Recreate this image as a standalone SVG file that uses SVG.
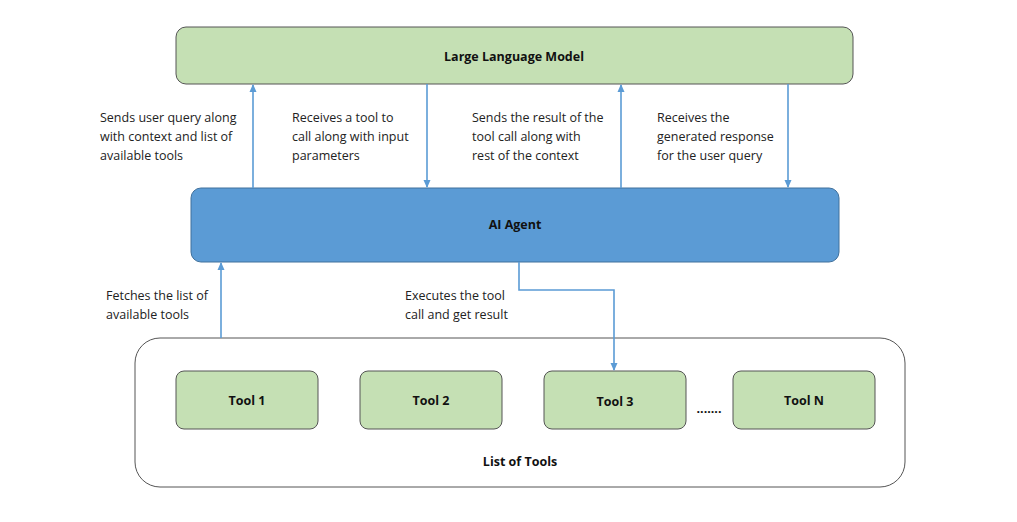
<svg xmlns="http://www.w3.org/2000/svg" width="1017" height="522" viewBox="0 0 1017 522">
<style>
.t{font-family:"Open Sans","Liberation Sans",sans-serif;font-size:12.5px;fill:#222}
.b{font-family:"Open Sans","Liberation Sans",sans-serif;font-size:12.5px;font-weight:bold;fill:#111;text-anchor:middle}
.g{fill:#c5e0b4;stroke:#555;stroke-width:1}
.c{fill:none;stroke:#5b9bd5;stroke-width:1.6}
</style>
<defs><marker id="a" markerWidth="8" markerHeight="8" refX="7" refY="4" orient="auto" markerUnits="userSpaceOnUse"><path d="M0,0.5 L8,4 L0,7.5z" fill="#5b9bd5"/></marker></defs>
<rect width="1017" height="522" fill="#fff"/>
<g id="llm"><rect class="g" x="176" y="27" width="677" height="57" rx="10"/><text class="b" x="514" y="61">Large Language Model</text></g>
<g id="agent"><rect x="191" y="188" width="648" height="74" rx="10" fill="#5b9bd5" stroke="#41719c"/><text class="b" x="515" y="229">AI Agent</text></g>
<g id="list"><rect x="135" y="338" width="770" height="149" rx="25" fill="#fff" stroke="#555"/><text class="b" x="520" y="466">List of Tools</text></g>
<g id="tool1"><rect class="g" x="176" y="371" width="142" height="58" rx="8"/><text class="b" x="247" y="405">Tool 1</text></g>
<g id="tool2"><rect class="g" x="360" y="371" width="142" height="58" rx="8"/><text class="b" x="431" y="405">Tool 2</text></g>
<g id="tool3"><rect class="g" x="544" y="371" width="142" height="58" rx="8"/><text class="b" x="615" y="406">Tool 3</text></g>
<g id="toolN"><rect class="g" x="733" y="371" width="142" height="58" rx="8"/><text class="b" x="804" y="405">Tool N</text></g>
<text class="b" x="709" y="413">.......</text>
<g id="connectors">
<path class="c" d="M253,188 V85" marker-end="url(#a)"/>
<path class="c" d="M427,84 V187" marker-end="url(#a)"/>
<path class="c" d="M621,188 V85" marker-end="url(#a)"/>
<path class="c" d="M788,84 V187" marker-end="url(#a)"/>
<path class="c" d="M221,338 V263" marker-end="url(#a)"/>
<path class="c" d="M519,262 V290 H614 V370" marker-end="url(#a)"/>
</g>
<g class="t">
<text x="100" y="122">Sends user query along</text><text x="100" y="141">with context and list of</text><text x="100" y="160">available tools</text>
<text x="292" y="122">Receives a tool to</text><text x="292" y="141">call along with input</text><text x="292" y="160">parameters</text>
<text x="472" y="122">Sends the result of the</text><text x="472" y="141">tool call along with</text><text x="472" y="160">rest of the context</text>
<text x="657" y="122">Receives the</text><text x="657" y="141">generated response</text><text x="657" y="160">for the user query</text>
<text x="106" y="300">Fetches the list of</text><text x="106" y="319">available tools</text>
<text x="405" y="300">Executes the tool</text><text x="405" y="319">call and get result</text>
</g>
</svg>
